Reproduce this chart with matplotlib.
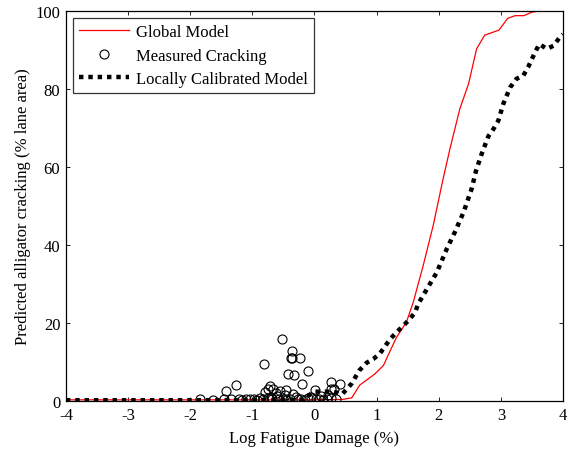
import matplotlib
matplotlib.use("Agg")
import matplotlib.pyplot as plt

plt.rcParams["font.family"] = ["Liberation Serif", "DejaVu Serif"]
plt.rcParams["axes.unicode_minus"] = False

global_x = [-4.0, -2.0, 0.0, 0.45, 0.60, 0.73, 0.97, 1.11, 1.22, 1.32, 1.48, 1.59,
            1.75, 1.91, 2.07, 2.18, 2.34, 2.48, 2.61, 2.74, 2.97, 3.11, 3.23,
            3.37, 3.50, 3.63, 4.0]
global_y = [0.3, 0.3, 0.3, 0.4, 0.8, 4.1, 6.9, 9.1, 12.9, 16.3, 20.2, 25.3,
            34.7, 44.9, 56.9, 64.6, 74.9, 81.3, 90.3, 93.8, 95.1, 98.1, 98.8,
            98.8, 99.7, 100.0, 100.0]

local_x = [-4.0, -2.0, -0.2, 0.0, 0.3, 0.45, 0.60, 0.72, 0.84, 0.95, 1.05, 1.22,
           1.32, 1.43, 1.51, 1.62, 1.67, 1.81, 1.97, 2.13, 2.26, 2.40, 2.53,
           2.60, 2.69, 2.80, 2.88, 2.96, 3.04, 3.15, 3.25, 3.36, 3.44, 3.50,
           3.58, 3.62, 3.74, 3.85, 3.95, 4.0]
local_y = [0.2, 0.2, 0.3, 2.4, 2.4, 1.8, 4.5, 7.8, 9.8, 10.8, 12.1, 15.9,
           17.6, 19.3, 20.6, 22.7, 24.9, 28.7, 33.0, 39.0, 43.3, 48.4, 54.4,
           59.0, 63.3, 67.9, 69.7, 71.9, 76.2, 80.4, 82.6, 83.4, 85.6, 87.7,
           90.3, 91.5, 90.3, 91.1, 93.3, 94.0]

measured_x = [-1.84, -1.63, -1.45, -1.42, -1.26, -1.22, -1.16, -1.04, -0.98,
              -0.92, -0.83, -0.81, -0.80, -0.75, -0.74, -0.72, -0.68, -0.66,
              -0.60, -0.57, -0.56, -0.52, -0.50, -0.45, -0.45, -0.43, -0.39,
              -0.38, -0.36, -0.36, -0.34, -0.33, -0.27, -0.24, -0.22, -0.20,
              -0.15, -0.11, -0.10, 0.01, 0.03, 0.08, 0.14, 0.20, 0.26, 0.27,
              0.27, 0.31, 0.35, 0.41, -0.62, -0.48, -1.10, -0.05, -1.35,
              -0.88, -0.70, -0.30, 0.10, 0.22]
measured_y = [0.4, 0.3, 0.5, 2.5, 4.0, 0.5, 0.3, 0.4, 0.6, 0.3, 0.5, 9.4,
              2.2, 0.8, 3.1, 3.8, 0.5, 3.2, 1.2, 0.4, 2.6, 15.8, 0.6, 2.9,
              0.3, 7.0, 0.5, 11.0, 12.8, 11.1, 1.8, 6.7, 0.4, 11.0, 0.6, 4.4,
              0.3, 7.6, 0.8, 2.9, 0.4, 0.6, 0.3, 0.5, 0.8, 4.9, 3.1, 3.1,
              0.4, 4.4, 2.0, 1.5, 0.6, 1.0, 0.4, 0.7, 1.0, 0.9, 1.2, 1.6]

fig = plt.figure(figsize=(5.73, 4.52), dpi=100)
ax = fig.add_axes([0.115, 0.1106, 0.8675, 0.8629])

ax.plot(global_x, global_y, color="red", linewidth=0.9, label="Global Model")
ax.plot(measured_x, measured_y, linestyle="none", marker="o", markersize=6.5,
        markerfacecolor="none", markeredgecolor="black", markeredgewidth=0.8,
        label="Measured Cracking")
ax.plot(local_x, local_y, color="black", linewidth=3.2,
        linestyle=(0, (1.0, 1.1)), label="Locally Calibrated Model")

ax.set_xlim(-4, 4)
ax.set_ylim(0, 100)
ax.set_xticks(range(-4, 5))
ax.set_yticks(range(0, 101, 20))
ax.tick_params(direction="in", top=True, right=True, labelsize=12, length=3,
               width=0.6, pad=4)
for spine in ax.spines.values():
    spine.set_linewidth(0.9)

ax.set_xlabel("Log Fatigue Damage (%)", fontsize=12, labelpad=5)
ax.set_ylabel("Predicted alligator cracking (% lane area)", fontsize=12,
              labelpad=3)

leg = ax.legend(loc="upper left", fontsize=12, frameon=True, fancybox=False,
                edgecolor="black", borderpad=0.35, labelspacing=0.45,
                handlelength=3.0, handletextpad=0.4, borderaxespad=0.45)
leg.get_frame().set_linewidth(0.9)

fig.savefig("out.png", dpi=100)
